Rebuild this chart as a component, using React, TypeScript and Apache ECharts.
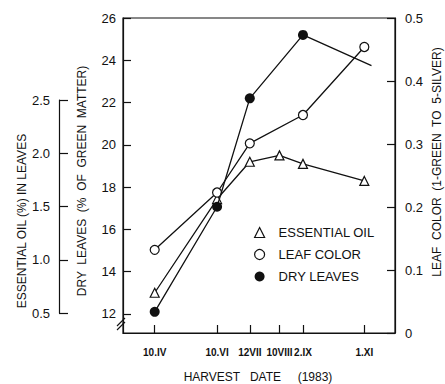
import React, { useEffect, useRef } from "react";
import * as echarts from "echarts";

// Harvest dates (day of year, 1983) and their labels
const harvestDays = [100, 161, 193, 222, 245, 305];
const harvestLabels = ["10.IV", "10.VI", "12VII", "10VIII", "2.IX", "1.XI"];

// Essential oil (%) in leaves – all six harvests
const oilValues = [0.69, 1.57, 1.92, 1.98, 1.9, 1.74];

// Leaf color (right axis) – harvests without 10.VIII
const leafDays = [100, 161, 193, 245, 305];
const leafValues = [0.132, 0.223, 0.301, 0.346, 0.454];

// Dry leaves (% of green matter); last point is the line end without marker
const dryDays = [100, 161, 193, 245, 312];
const dryValues = [12.1, 17.07, 22.2, 25.2, 23.75];

const dryTicks = [12, 14, 16, 18, 20, 22, 24, 26];

const FONT = "Liberation Sans";
const INK = "#111";

export default function App() {
  const ref = useRef<HTMLDivElement>(null);
  useEffect(() => {
    document.body.style.margin = "0";
    if (!ref.current) return;
    const chart = echarts.init(ref.current, undefined, { renderer: "svg" });
    const hollow = { color: "#fff", borderColor: INK, borderWidth: 1.2 };
    const axisLine = { show: true, lineStyle: { color: INK, width: 1.2 } };
    const tick = (len: number) => ({ show: true, inside: true, length: len, lineStyle: { color: INK, width: 1.2 } });
    chart.setOption({
      animation: false,
      backgroundColor: "#fff",
      textStyle: { fontFamily: FONT, color: INK },
      grid: [
        { left: 123, right: 50, top: 18, bottom: 51, show: true, borderColor: INK, borderWidth: 1.2, backgroundColor: "transparent" },
        { left: 59, width: 1, top: 100, height: 213, show: false },
      ],
      xAxis: [
        {
          type: "value",
          gridIndex: 0,
          min: 69,
          max: 335,
          axisLine,
          axisTick: { ...tick(8), customValues: harvestDays },
          axisLabel: {
            customValues: harvestDays,
            margin: 14,
            fontSize: 10,
            fontWeight: "bold",
            color: INK,
            fontFamily: FONT,
            formatter: (v: number) => harvestLabels[harvestDays.indexOf(v)] ?? "",
          },
          splitLine: { show: false },
        },
        { type: "value", gridIndex: 1, show: false, min: 0, max: 1 },
      ],
      yAxis: [
        {
          type: "value",
          gridIndex: 0,
          position: "left",
          min: 11.1,
          max: 26,
          axisLine,
          axisTick: { ...tick(8), customValues: dryTicks },
          axisLabel: { customValues: dryTicks, margin: 7, fontSize: 13, color: INK, fontFamily: FONT },
          splitLine: { show: false },
        },
        {
          type: "value",
          gridIndex: 0,
          show: false,
          min: 0.312,
          max: 3.27,
          splitLine: { show: false },
        },
        {
          type: "value",
          gridIndex: 0,
          position: "right",
          min: 0,
          max: 0.5,
          interval: 0.1,
          axisLine,
          axisTick: tick(8),
          axisLabel: { margin: 10, fontSize: 13, color: INK, fontFamily: FONT, formatter: (v: number) => (v === 0 ? "0" : String(+v.toFixed(1))) },
          splitLine: { show: false },
        },
        {
          type: "value",
          gridIndex: 1,
          position: "left",
          min: 0.5,
          max: 2.5,
          interval: 0.5,
          axisLine,
          axisTick: tick(9),
          axisLabel: { margin: 9, fontSize: 13, color: INK, fontFamily: FONT, formatter: (v: number) => v.toFixed(1) },
          splitLine: { show: false },
        },
      ],
      legend: {
        orient: "vertical",
        left: 249,
        top: 221,
        itemWidth: 10,
        itemHeight: 10,
        itemGap: 9,
        textStyle: { fontSize: 13, color: INK, fontFamily: FONT, padding: [0, 0, 0, 9] },
        data: [
          { name: "ESSENTIAL OIL", icon: "triangle", itemStyle: hollow },
          { name: "LEAF COLOR", icon: "circle", itemStyle: hollow },
          { name: "DRY LEAVES", icon: "circle", itemStyle: { color: INK, borderWidth: 0 } },
        ],
      },
      series: [
        {
          name: "ESSENTIAL OIL",
          type: "line",
          xAxisIndex: 0,
          yAxisIndex: 1,
          data: harvestDays.map((d, i) => [d, oilValues[i]]),
          symbol: "triangle",
          symbolSize: 9,
          itemStyle: hollow,
          lineStyle: { color: INK, width: 1.3 },
          z: 3,
        },
        {
          name: "LEAF COLOR",
          type: "line",
          xAxisIndex: 0,
          yAxisIndex: 2,
          data: leafDays.map((d, i) => [d, leafValues[i]]),
          symbol: "circle",
          symbolSize: 9,
          itemStyle: hollow,
          lineStyle: { color: INK, width: 1.3 },
          z: 4,
        },
        {
          name: "DRY LEAVES",
          type: "line",
          xAxisIndex: 0,
          yAxisIndex: 0,
          data: dryDays.map((d, i) =>
            i === dryDays.length - 1
              ? { value: [d, dryValues[i]], symbol: "none" }
              : [d, dryValues[i]]
          ),
          symbol: "circle",
          symbolSize: 10,
          itemStyle: { color: INK, borderWidth: 0 },
          lineStyle: { color: INK, width: 1.3 },
          z: 5,
        },
      ],
      graphic: [
        { type: "line", shape: { x1: 117, y1: 326, x2: 125, y2: 318 }, style: { stroke: INK, lineWidth: 1.1 } },
        { type: "line", shape: { x1: 117, y1: 330, x2: 125, y2: 322 }, style: { stroke: INK, lineWidth: 1.1 } },
        {
          type: "text",
          x: 22,
          y: 221,
          rotation: Math.PI / 2,
          style: { text: "ESSENTIAL OIL (%) IN LEAVES", fontSize: 12, fontFamily: FONT, fill: INK, align: "center", verticalAlign: "middle" },
        },
        {
          type: "text",
          x: 82,
          y: 181,
          rotation: Math.PI / 2,
          style: { text: "DRY  LEAVES  (%  OF  GREEN  MATTER)", fontSize: 12, fontFamily: FONT, fill: INK, align: "center", verticalAlign: "middle" },
        },
        {
          type: "text",
          x: 437,
          y: 162,
          rotation: Math.PI / 2,
          style: { text: "LEAF  COLOR  (1-GREEN  TO  5-SILVER)", fontSize: 12, fontFamily: FONT, fill: INK, align: "center", verticalAlign: "middle" },
        },
        {
          type: "text",
          x: 258,
          y: 377,
          style: { text: "HARVEST   DATE     (1983)", fontSize: 12, fontFamily: FONT, fill: INK, align: "center", verticalAlign: "middle" },
        },
      ],
    });
    return () => chart.dispose();
  }, []);
  return <div ref={ref} style={{ width: 445, height: 384 }} />;
}
